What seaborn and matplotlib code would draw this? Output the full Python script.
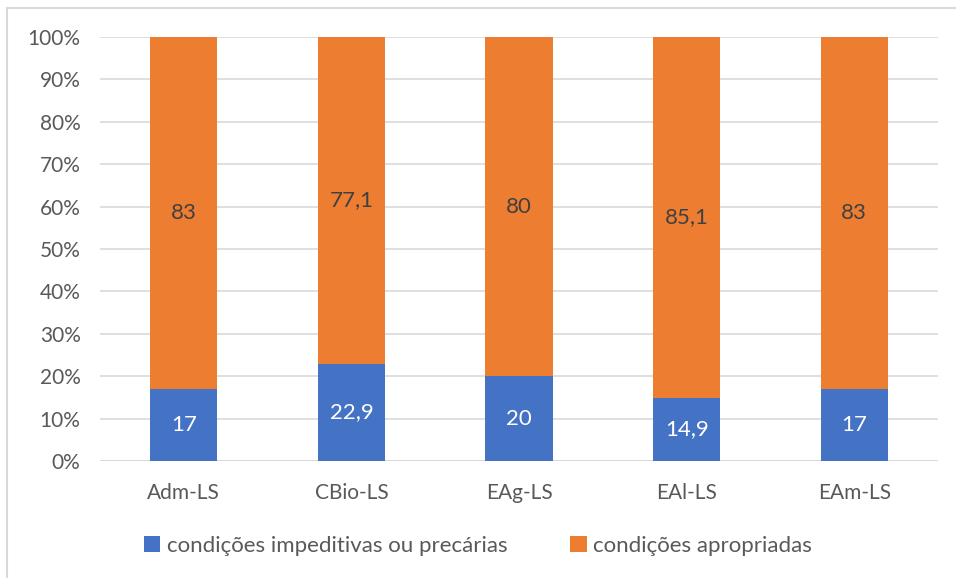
import numpy as np
import pandas as pd
import matplotlib
matplotlib.use("Agg")
import matplotlib.pyplot as plt
import seaborn as sns
from matplotlib.patches import Patch
from matplotlib.lines import Line2D

######################################## data ########################################
categories = ['Adm-LS', 'CBio-LS', 'EAg-LS', 'EAl-LS', 'EAm-LS']
impeditivas = [17, 22.9, 20, 14.9, 17]
apropriadas = [83, 77.1, 80, 85.1, 83]
series_names = ['condições impeditivas ou precárias', 'condições apropriadas']
y_ticks = [0, 10, 20, 30, 40, 50, 60, 70, 80, 90, 100]

blue = '#4472C4'
orange = '#ED7D31'
textGray = '#595959'

df = pd.DataFrame({'Category': categories,
                   'low': impeditivas,
                   'high': apropriadas})
df['total'] = df['low'] + df['high']

######################################## plot ########################################
sns.set_theme(style='white')
plt.rcParams['font.family'] = ['Lato', 'DejaVu Sans']

fig = plt.figure(figsize=(9.56, 5.78), dpi=100)
ax = fig.add_axes([100/956, 1 - 461/578, (938 - 100)/956, (461 - 37)/578])

# orange full stack first, blue at bottom over it
sns.barplot(data=df, x='Category', y='total', color=orange, width=0.4,
            saturation=1, ax=ax, zorder=3, linewidth=0)
sns.barplot(data=df, x='Category', y='low', color=blue, width=0.4,
            saturation=1, ax=ax, zorder=4, linewidth=0)

# value labels
for i, row in df.iterrows():
    lowTxt = f"{row['low']:g}".replace('.', ',')
    highTxt = f"{row['high']:g}".replace('.', ',')
    ax.text(i, row['low'] / 2, lowTxt, ha='center', va='center',
            color='white', fontsize=16, zorder=5)
    ax.text(i, row['low'] + row['high'] / 2, highTxt, ha='center', va='center',
            color='#404040', fontsize=16, zorder=5)

ax.set_xlim(-0.5, 4.5)
ax.set_ylim(0, 100)
ax.set_yticks(y_ticks)
ax.set_yticklabels([f'{t}%' for t in y_ticks])
ax.yaxis.grid(True, color='#D9D9D9', linewidth=1.2, zorder=0)
ax.set_axisbelow(True)
ax.set_xlabel('')
ax.set_ylabel('')
for s in ax.spines.values():
    s.set_visible(False)
ax.axhline(0, color='#D9D9D9', linewidth=1.2, zorder=2)
ax.tick_params(axis='both', length=0, labelsize=15, colors=textGray, pad=14)
ax.tick_params(axis='x', pad=16)

# legend
handles = [Patch(facecolor=blue, edgecolor='none'),
           Patch(facecolor=orange, edgecolor='none')]
fig.legend(handles, series_names, loc='center', bbox_to_anchor=(0.5, 1 - 546/578),
           ncol=2, frameon=False, fontsize=16, labelcolor=textGray,
           handlelength=0.75, handleheight=0.75, handletextpad=0.3, columnspacing=2.8)

# chart border (left and top visible)
fig.add_artist(Line2D([7/956, 7/956], [0, 1 - 8/578], transform=fig.transFigure,
                      color='#D9D9D9', linewidth=1.5))
fig.add_artist(Line2D([7/956, 1], [1 - 8/578, 1 - 8/578], transform=fig.transFigure,
                      color='#D9D9D9', linewidth=1.5))

fig.savefig('out.png', dpi=100)
